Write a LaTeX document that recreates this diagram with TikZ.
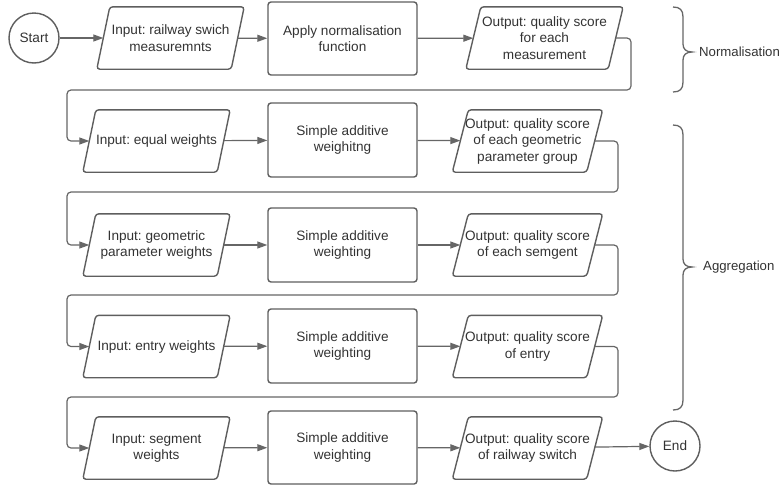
\documentclass[tikz,border=0pt]{standalone}
\usepackage{fontspec}
\setmainfont{Liberation Sans}
\usetikzlibrary{arrows.meta}
\definecolor{lc}{HTML}{5E5E5E}
\definecolor{cc}{HTML}{666666}
\definecolor{tc}{HTML}{333333}
\newcommand\mybrace[3]{% x0 (ends), y1 (top), y2 (bottom), tip at middle given as #3
}
\begin{document}
\frenchspacing
\begin{tikzpicture}[x=1pt,y=-1pt,
  every node/.style={text=tc,font=\fontsize{13.6}{16.5}\selectfont,align=center},
  term/.style={circle,draw=lc,line width=1.4pt,minimum size=50pt,inner sep=0pt},
  proc/.style={rectangle,draw=lc,line width=1.4pt,rounded corners=3pt,minimum width=149pt,minimum height=73pt,inner sep=0pt},
  io/.style={rectangle,minimum width=134pt,minimum height=62pt,inner sep=0pt},
  shp/.style={draw=lc,line width=1.4pt,rounded corners=3pt},
  conn/.style={draw=cc,line width=1.2pt,-{Triangle[length=10pt,width=7pt]}},
  loop/.style={conn,rounded corners=4pt},
  brc/.style={draw=cc,line width=1.3pt},
  lbl/.style={anchor=west,inner sep=0pt,font=\fontsize{13.2}{16}\selectfont}
]
\useasboundingbox (0,0) rectangle (782,485);

% row 1
\node[term] (start) at (34,38) {Start};
\node[io] (i1) at (170.5,38) {Input: railway swich\\measuremnts};
\node[proc] (p1) at (342.5,38.5) {Apply normalisation\\function};
\node[io,minimum width=142pt] (o1) at (544.5,38) {Output: quality score\\for each\\measurement};
% row 2
\node[io] (i2) at (156.5,141) {Input: equal weights};
\node[proc,minimum height=74pt] (p2) at (342.5,140) {Simple additive\\weighitng};
\node[io] (o2) at (527.5,141) {Output: quality score\\of each geometric\\parameter group};
% row 3
\node[io] (i3) at (156.5,245) {Input: geometric\\parameter weights};
\node[proc,minimum height=74pt] (p3) at (342.5,245) {Simple additive\\weighting};
\node[io] (o3) at (527.5,245) {Output: quality score\\of each semgent};
% row 4
\node[io] (i4) at (156.5,346.5) {Input: entry weights};
\node[proc,minimum height=74pt] (p4) at (342.5,346) {Simple additive\\weighting};
\node[io] (o4) at (527.5,346.5) {Output: quality score\\of entry};
% row 5
\node[io] (i5) at (156.5,448) {Input: segment\\weights};
\node[proc,minimum height=73pt] (p5) at (342.5,447.5) {Simple additive\\weighting};
\node[io] (o5) at (527.5,448) {Output: quality score\\of railway switch};
\node[term] (end) at (675,446) {End};

% parallelogram outlines
\foreach \n/\s in {i1/13,i2/13,i3/13,i4/13,i5/13,o1/15,o2/16,o3/16,o4/16,o5/16}{
  \draw[shp] ([xshift=-\s/2]\n.south west) -- ([xshift=\s/2]\n.north west)
    -- ([xshift=\s/2]\n.north east) -- ([xshift=-\s/2]\n.south east) -- cycle;
}

% straight connectors
\draw[conn] (start) -- (i1);
\draw[conn] (i1) -- (p1);
\draw[conn] (p1) -- (o1);
\foreach \r in {2,3,4,5}{
  \draw[conn] (i\r) -- (p\r);
  \draw[conn] (p\r) -- (o\r);
}
\draw[conn] (o5) -- (end);

% loop connectors
\draw[loop] (o1.east) -| (631,90) -| (67,141) -- (i2.west);
\draw[loop] (o2.east) -| (618,192) -| (67,245) -- (i3.west);
\draw[loop] (o3.east) -| (618,295) -| (67,346.5) -- (i4.west);
\draw[loop] (o4.east) -| (618,397) -| (67,448) -- (i5.west);

% braces
\draw[brc] (673,7) .. controls (680,7) and (683,10) .. (683,17) -- (683,44)
  .. controls (683,49) and (686,52) .. (692,52)
  .. controls (686,52) and (683,55) .. (683,60) -- (683,82)
  .. controls (683,89) and (680,92) .. (673,92);
\draw[brc] (673,125) .. controls (680,125) and (683,128) .. (683,135) -- (683,259)
  .. controls (683,264) and (686,267) .. (692,267)
  .. controls (686,267) and (683,270) .. (683,275) -- (683,400)
  .. controls (683,407) and (680,410) .. (673,410);
\node[lbl] (norm) at (699,52) {Normalisation};
\node[lbl] (aggr) at (703,267) {Aggregation};
\end{tikzpicture}
\end{document}
